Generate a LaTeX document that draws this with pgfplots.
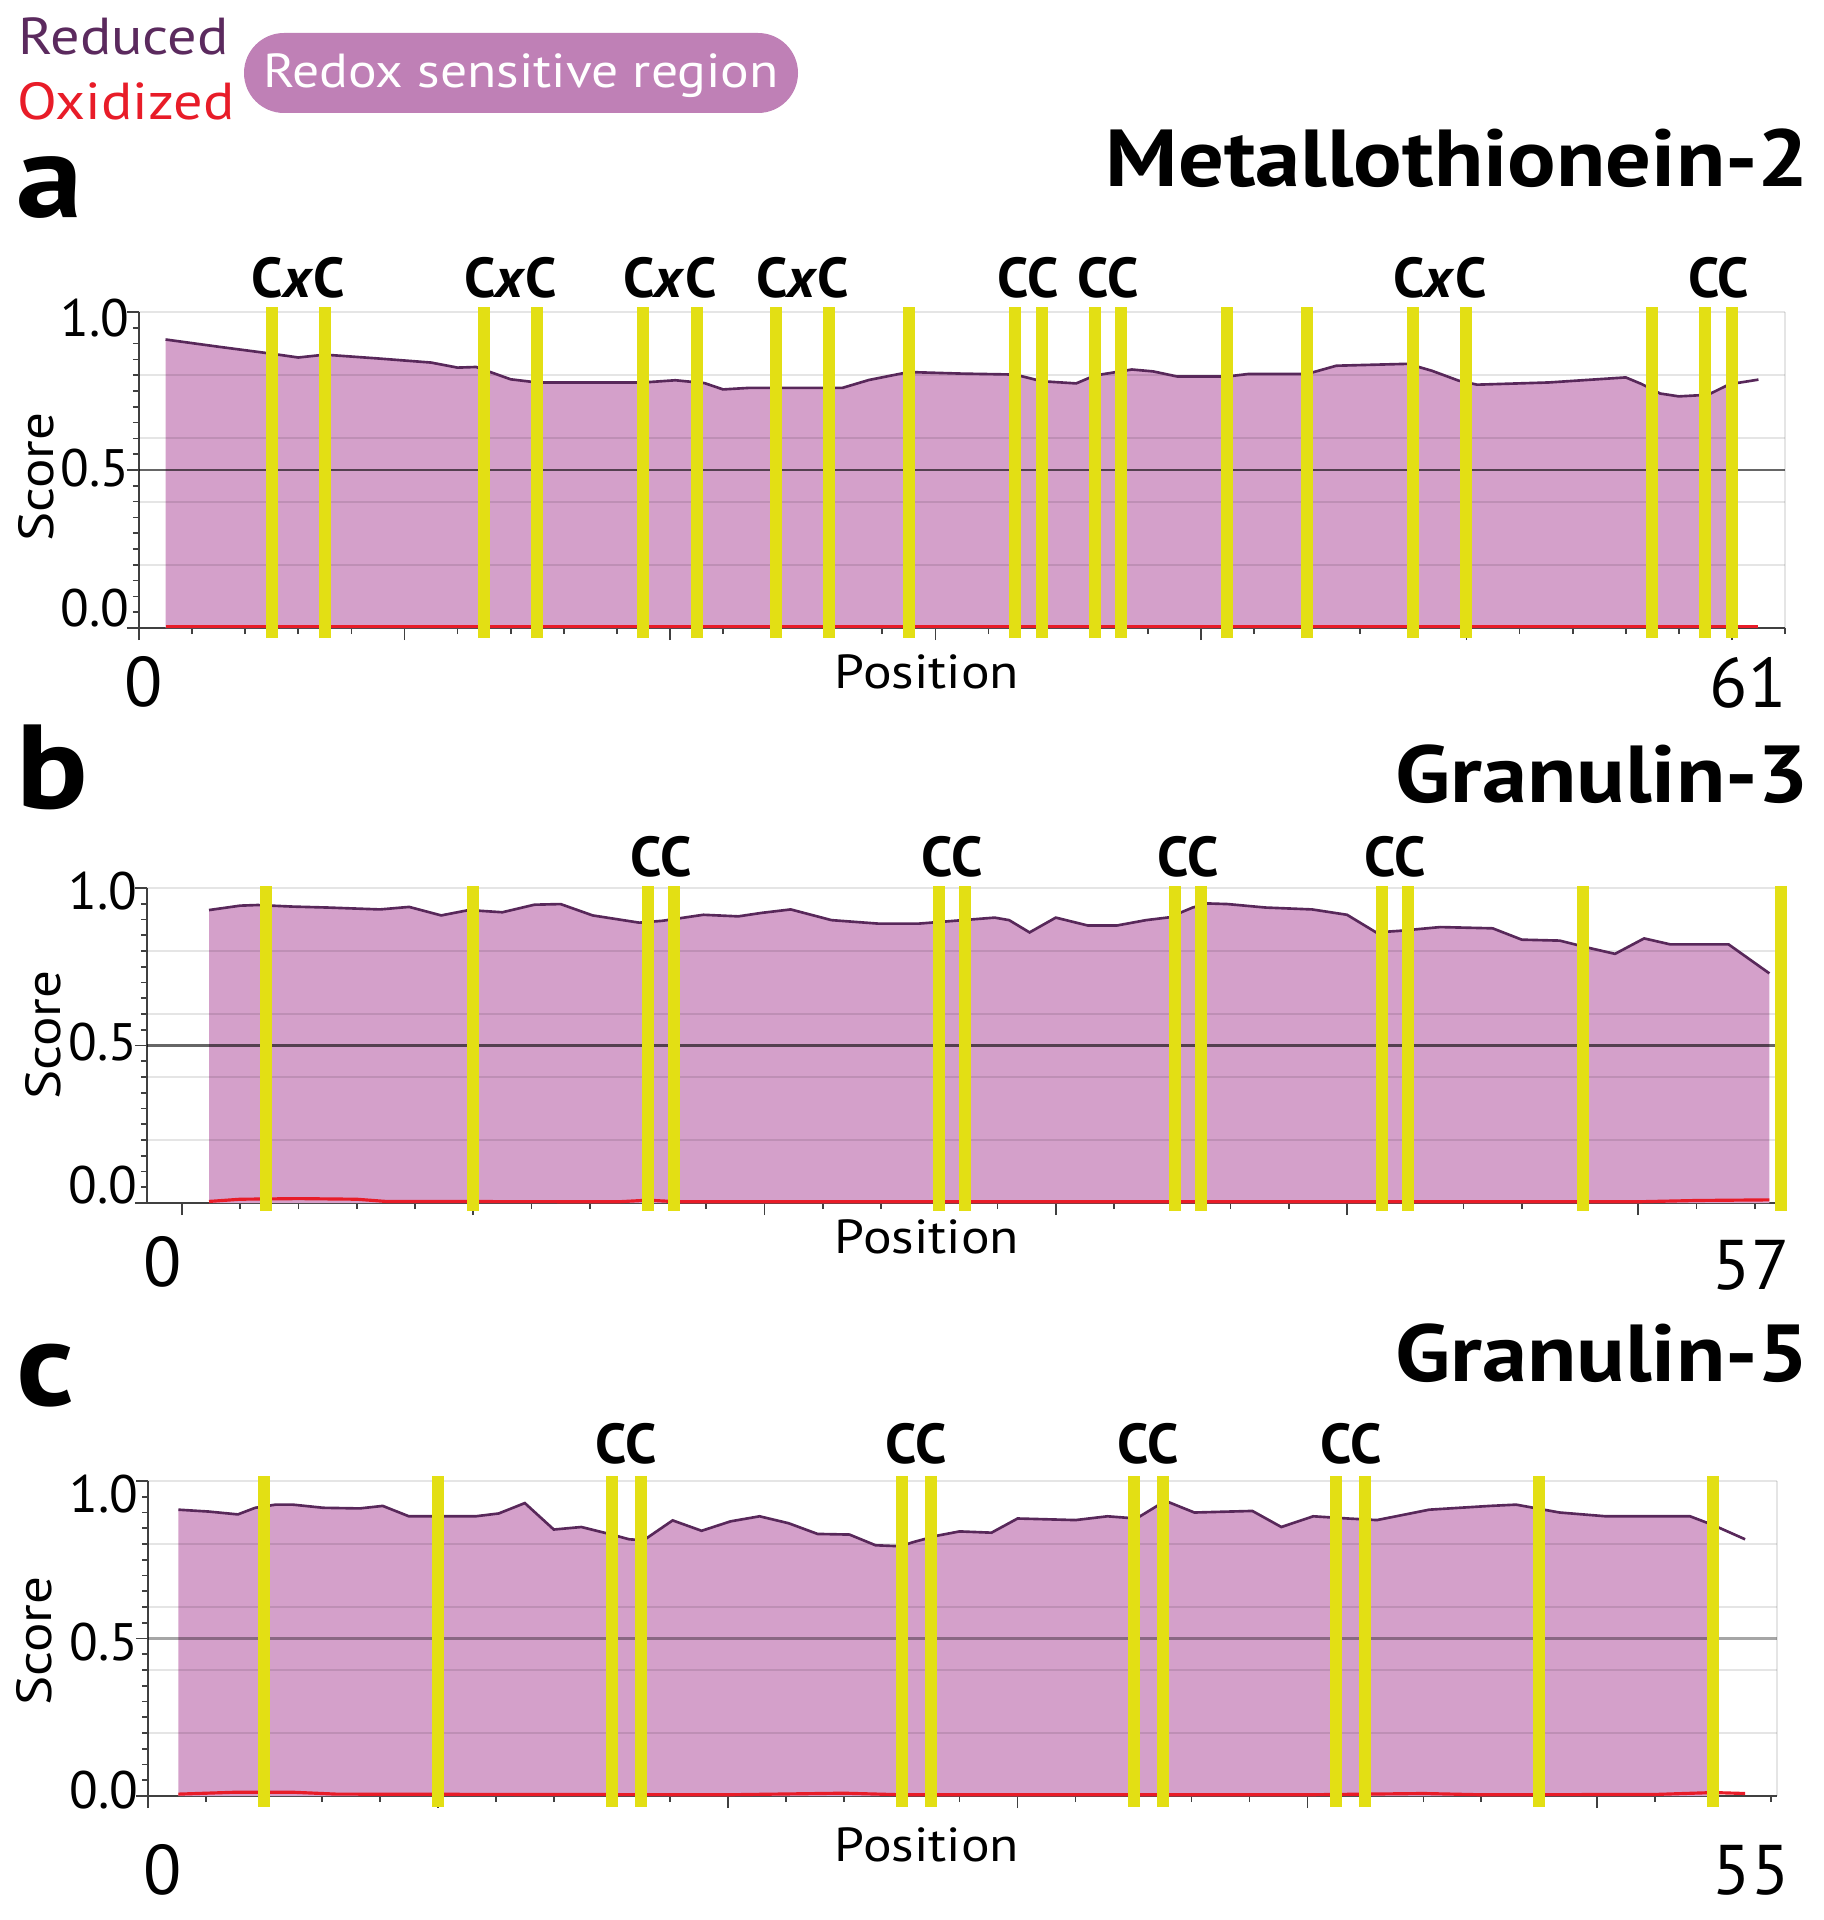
\documentclass[border=0pt]{standalone}
\usepackage{graphicx}
\usepackage{pgfplots}
\pgfplotsset{compat=1.18}
\usepackage{pgfplotstable}
\usepackage{fontspec}
\setmainfont{PT Sans}
\definecolor{fillc}{RGB}{212,160,202}
\definecolor{curvec}{RGB}{88,40,90}
\definecolor{ybarc}{RGB}{227,223,20}
\definecolor{oxc}{RGB}{232,28,40}
\definecolor{pillc}{RGB}{191,128,182}
\definecolor{redc}{RGB}{91,42,94}
\newcommand\yl[2]{\smash{\raisebox{\dimexpr-1.85mm-#1\relax}{#2}}}
\newcommand\fs[1]{\fontsize{#1}{#1}\selectfont}
\newcommand\wide[1]{\scalebox{1.12}[1]{#1}}

\pgfplotstableread{
x y
1 0.913
3 0.890
5 0.868
6 0.856
7 0.865
9 0.853
11 0.840
12 0.824
12.7 0.826
14 0.787
15 0.777
19 0.777
20.2 0.784
21.3 0.775
22 0.755
23 0.760
26.5 0.760
27.5 0.785
29 0.810
31 0.805
33 0.802
34 0.781
35.3 0.774
36 0.799
37.4 0.818
38.2 0.812
39.1 0.796
41 0.796
41.8 0.804
44 0.804
45.1 0.830
47.8 0.836
48.7 0.814
49.7 0.783
50.4 0.770
53.1 0.777
56 0.793
56.6 0.772
57.3 0.742
58 0.733
59.1 0.738
59.8 0.767
60.1 0.774
61 0.786
}\reda

\pgfplotstableread{
x y
1 0.004
30 0.004
61 0.004
}\oxa

\pgfplotstableread{
x y
0.93 0.930
2 0.944
2.6 0.946
3.8 0.941
5 0.938
6.8 0.932
7.8 0.940
8.9 0.913
9.85 0.930
11 0.923
12.1 0.947
13 0.949
14.1 0.913
15.7 0.890
16.5 0.896
17.9 0.915
19.1 0.910
19.9 0.921
20.9 0.932
22.3 0.898
23.9 0.887
25.3 0.887
26.4 0.895
27.9 0.906
28.4 0.898
29.1 0.859
30 0.906
31.1 0.881
32.1 0.881
33.1 0.898
33.9 0.907
34.7 0.938
35.2 0.951
35.9 0.949
37.2 0.938
38.8 0.932
40 0.915
41 0.859
41.8 0.864
43.2 0.876
45 0.872
46 0.836
47.3 0.833
48.3 0.810
49.2 0.791
50.2 0.840
51.1 0.821
53.1 0.821
54.5 0.729
}\redb

\pgfplotstableread{
x y
0.93 0.005
2 0.012
4 0.014
6 0.012
7 0.005
15 0.004
16 0.009
17 0.004
50 0.004
52 0.008
54.5 0.010
}\oxb

\pgfplotstableread{
x y
1.05 0.909
2.1 0.903
3.1 0.894
3.7 0.915
4.4 0.925
5 0.925
6.05 0.915
7.3 0.913
8.1 0.921
9 0.888
10.1 0.888
11.3 0.888
12.1 0.897
13 0.930
14 0.846
14.95 0.854
16 0.830
16.6 0.815
17.1 0.812
18.1 0.875
19.1 0.842
20.1 0.872
21.1 0.888
22.1 0.866
23.1 0.832
24.2 0.830
25.1 0.796
25.96 0.793
26.4 0.806
27.2 0.826
28 0.840
29.1 0.836
30 0.881
32 0.876
33.1 0.888
34.1 0.881
35.1 0.937
36.1 0.900
38.1 0.905
39.1 0.854
40.2 0.888
41.4 0.881
42.4 0.876
44.2 0.909
46.3 0.921
47.2 0.925
48.7 0.900
50.3 0.888
53.2 0.888
54 0.860
55.1 0.815
}\redc

\pgfplotstableread{
x y
1.05 0.006
3 0.012
5 0.012
6.5 0.006
20 0.004
24 0.009
26 0.004
40 0.004
44 0.008
46 0.004
52 0.005
54 0.011
55.1 0.008
}\oxcc

\pgfplotsset{
  panel/.style={
    scale only axis, clip=false,
    ymin=0, ymax=1,
    axis x line*=bottom, axis y line*=left,
    axis line style={black!75, line width=0.5pt},
    ytick={0,0.5,1}, minor ytick={0,0.05,...,1},
    tick align=outside,
    major tick length=1.2mm, minor tick length=0.6mm,
    tick style={black!75, line width=0.5pt},
    xticklabels={},
    yticklabel style={font=\fs{15pt}, inner sep=0pt, xshift=0.3mm},
  },
}
\tikzset{
  ybarl/.style={ybarc, line width=1.2mm, line cap=butt},
  curve/.style={curvec, line width=0.75pt},
  oxl/.style={oxc, line width=0.9pt},
  lab/.style={anchor=base, inner sep=0pt, font=\fs{16pt}\bfseries},
  gl/.style={black, opacity=0.1, line width=0.6pt},
}

\begin{document}
\begin{tikzpicture}
\useasboundingbox (0,0) rectangle (182.3mm,-192mm);

% legend
\node[anchor=base west, inner sep=0pt, text=redc, font=\fs{14.8pt}] at (1.8mm,-5.5mm) {\wide{Reduced}};
\node[anchor=base west, inner sep=0pt, text=oxc, font=\fs{14.8pt}] at (1.7mm,-12.0mm) {\wide{Oxidized}};
\fill[pillc, rounded corners=4mm] (24.4mm,-3.3mm) rectangle (79.8mm,-11.3mm);
\node[anchor=base, inner sep=0pt, text=white, font=\fs{13.6pt}] at (52.1mm,-8.8mm) {\wide{Redox sensitive region}};

% panel a
\node[anchor=base west, inner sep=0pt, font=\fs{34pt}\bfseries] at (1.6mm,-21.8mm) {\wide{a}};
\node[anchor=base east, inner sep=0pt, font=\fs{23pt}\bfseries] at (181mm,-18.7mm) {\wide{Metallothionein-2}};
\begin{axis}[panel, at={(13.9mm,-62.8mm)}, anchor=south west,
  width=164.6mm, height=31.6mm, xmin=0, xmax=62,
  xtick={0,10,...,60}, minor xtick={0,2,...,62},
  yticklabels={\yl{-2.0mm}{0.0},\yl{-0.2mm}{0.5},\yl{0.6mm}{1.0}}]
  \addplot[fill=fillc, draw=none, restrict x to domain=1:60.1] table {\reda} \closedcycle;
  \draw[gl] (rel axis cs:0,0.2) -- (rel axis cs:1,0.2);
  \draw[gl] (rel axis cs:0,0.4) -- (rel axis cs:1,0.4);
  \draw[gl] (rel axis cs:0,0.6) -- (rel axis cs:1,0.6);
  \draw[gl] (rel axis cs:0,0.8) -- (rel axis cs:1,0.8);
  \draw[gl] (rel axis cs:0,1) -- (rel axis cs:1,1);
  \draw[gl] (rel axis cs:1,0) -- (rel axis cs:1,1);
  \draw[black, opacity=0.6, line width=0.6pt] (rel axis cs:0,0.5) -- (rel axis cs:1,0.5);
  \addplot[curve] table {\reda};
  \addplot[oxl] table {\oxa};
  \pgfplotsinvokeforeach{5,7,13,15,19,21,24,26,29,33,34,36,37,41,44,48,50,57,59,60}{
    \addplot[ybarl, forget plot] coordinates {(#1,-0.032) (#1,1.016)};
  }
  \node[lab] at (axis cs:6,1.045) {C\textit{x}C};
  \node[lab] at (axis cs:14,1.045) {C\textit{x}C};
  \node[lab] at (axis cs:20,1.045) {C\textit{x}C};
  \node[lab] at (axis cs:25,1.045) {C\textit{x}C};
  \node[lab] at (axis cs:33.5,1.045) {CC};
  \node[lab] at (axis cs:36.5,1.045) {CC};
  \node[lab] at (axis cs:49,1.045) {C\textit{x}C};
  \node[lab] at (axis cs:59.5,1.045) {CC};
\end{axis}
\node[rotate=90, font=\fs{14pt}] at (3.6mm,-47.7mm) {\wide{Score}};
\node[font=\fs{13.6pt}] at (92.7mm,-67.2mm) {\wide{Position}};
\node[font=\fs{20pt}] at (14.4mm,-68.2mm) {0};
\node[font=\fs{20pt}] at (174.8mm,-68.3mm) {61};

% panel b
\node[anchor=base west, inner sep=0pt, font=\fs{34pt}\bfseries] at (1.6mm,-80.8mm) {\wide{b}};
\node[anchor=base east, inner sep=0pt, font=\fs{23pt}\bfseries] at (181mm,-80.2mm) {\wide{Granulin-3}};
\begin{axis}[panel, at={(14.7mm,-120.3mm)}, anchor=south west,
  width=163.4mm, height=31.5mm, xmin=-1.2, xmax=54.9,
  xtick={0,10,...,50}, minor xtick={0,2,...,54},
  yticklabels={\yl{-1.8mm}{0.0},\yl{-0.4mm}{0.5},\yl{0.3mm}{1.0}}]
  \addplot[fill=fillc, draw=none] table {\redb} \closedcycle;
  \draw[gl] (rel axis cs:0,0.2) -- (rel axis cs:1,0.2);
  \draw[gl] (rel axis cs:0,0.4) -- (rel axis cs:1,0.4);
  \draw[gl] (rel axis cs:0,0.6) -- (rel axis cs:1,0.6);
  \draw[gl] (rel axis cs:0,0.8) -- (rel axis cs:1,0.8);
  \draw[gl] (rel axis cs:0,1) -- (rel axis cs:1,1);
  \draw[black, opacity=0.6, line width=0.6pt] (rel axis cs:0,0.5) -- (rel axis cs:1,0.5);
  \addplot[curve] table {\redb};
  \addplot[oxl] table {\oxb};
  \pgfplotsinvokeforeach{2.9,10,16,16.9,26,26.9,34.1,35,41.2,42.1,48.1,54.9}{
    \addplot[ybarl, forget plot] coordinates {(#1,-0.024) (#1,1.006)};
  }
  \node[lab] at (axis cs:16.45,1.035) {CC};
  \node[lab] at (axis cs:26.45,1.035) {CC};
  \node[lab] at (axis cs:34.55,1.035) {CC};
  \node[lab] at (axis cs:41.65,1.035) {CC};
\end{axis}
\node[rotate=90, font=\fs{14pt}] at (4.3mm,-103.5mm) {\wide{Score}};
\node[font=\fs{13.6pt}] at (92.7mm,-123.7mm) {\wide{Position}};
\node[font=\fs{20pt}] at (16.3mm,-126.2mm) {0};
\node[font=\fs{20pt}] at (175.1mm,-126.5mm) {57};

% panel c
\node[anchor=base west, inner sep=0pt, font=\fs{34pt}\bfseries] at (1.6mm,-140.5mm) {\wide{c}};
\node[anchor=base east, inner sep=0pt, font=\fs{23pt}\bfseries] at (181mm,-138.1mm) {\wide{Granulin-5}};
\begin{axis}[panel, at={(14.8mm,-179.6mm)}, anchor=south west,
  width=162.9mm, height=31.5mm, xmin=0, xmax=56.2,
  xtick={0,10,...,50}, minor xtick={0,2,...,56},
  yticklabels={\yl{-0.6mm}{0.0},\yl{0.3mm}{0.5},\yl{1.3mm}{1.0}}]
  \addplot[fill=fillc, draw=none, restrict x to domain=1:54] table {\redc} \closedcycle;
  \draw[gl] (rel axis cs:0,0.2) -- (rel axis cs:1,0.2);
  \draw[gl] (rel axis cs:0,0.4) -- (rel axis cs:1,0.4);
  \draw[gl] (rel axis cs:0,0.6) -- (rel axis cs:1,0.6);
  \draw[gl] (rel axis cs:0,0.8) -- (rel axis cs:1,0.8);
  \draw[gl] (rel axis cs:0,1) -- (rel axis cs:1,1);
  \draw[gl] (rel axis cs:1,0) -- (rel axis cs:1,1);
  \draw[black, opacity=0.35, line width=0.6pt] (rel axis cs:0,0.5) -- (rel axis cs:1,0.5);
  \addplot[curve] table {\redc};
  \addplot[oxl] table {\oxcc};
  \pgfplotsinvokeforeach{4,10,16,17,26,27,34,35,41,42,48,54}{
    \addplot[ybarl, forget plot] coordinates {(#1,-0.034) (#1,1.016)};
  }
  \node[lab] at (axis cs:16.5,1.057) {CC};
  \node[lab] at (axis cs:26.5,1.057) {CC};
  \node[lab] at (axis cs:34.5,1.057) {CC};
  \node[lab] at (axis cs:41.5,1.057) {CC};
\end{axis}
\node[rotate=90, font=\fs{14pt}] at (3.4mm,-164.1mm) {\wide{Score}};
\node[font=\fs{13.6pt}] at (92.7mm,-184.5mm) {\wide{Position}};
\node[font=\fs{20pt}] at (16.3mm,-187mm) {0};
\node[font=\fs{20pt}] at (175.1mm,-187mm) {55};
\end{tikzpicture}
\end{document}
